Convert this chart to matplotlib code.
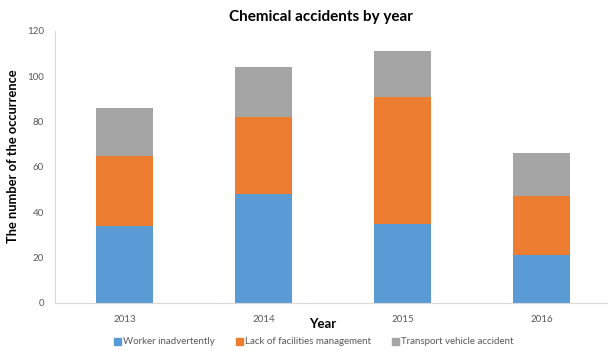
import matplotlib
matplotlib.use("Agg")
import matplotlib.pyplot as plt
import numpy as np
from matplotlib.patches import Patch

years = ["2013", "2014", "2015", "2016"]
worker = [34, 48, 35, 21]
facilities = [31, 34, 56, 26]
transport = [21, 22, 20, 19]
series_names = ["Worker inadvertently", "Lack of facilities management", "Transport vehicle accident"]
colors = ["#5B9BD5", "#ED7D31", "#A5A5A5"]

plt.rcParams['font.family'] = ['Lato', 'DejaVu Sans']

fig = plt.figure(figsize=(6.08, 3.51), dpi=100)
ax = fig.add_axes([55/608, 48/351, 556/608, 272/351])

x = np.arange(len(years))
w = 0.41
b1 = np.array(worker)
b2 = b1 + np.array(facilities)
ax.bar(x, worker, w, color=colors[0], label=series_names[0])
ax.bar(x, facilities, w, bottom=b1, color=colors[1], label=series_names[1])
ax.bar(x, transport, w, bottom=b2, color=colors[2], label=series_names[2])

ax.set_xlim(-0.5, 3.5)
ax.set_ylim(0, 120)
ax.set_yticks(range(0, 121, 20))
ax.set_xticks(x)
ax.set_xticklabels(years)
ax.tick_params(axis='both', length=0, labelsize=7, labelcolor="#595959")
ax.tick_params(axis='x', pad=9)
ax.tick_params(axis='y', pad=8)
for s in ["top", "right"]:
    ax.spines[s].set_visible(False)
for s in ["left", "bottom"]:
    ax.spines[s].set_color("#D9D9D9")
    ax.spines[s].set_linewidth(0.8)

fig.text(321/608, 1 - 17/351, "Chemical accidents by year", ha="center", va="center",
         fontsize=11, fontweight="bold", color="#000000")
fig.text(13/608, 1 - 156/351, "The number of the occurrence", rotation=90, ha="center",
         va="center", fontsize=9.3, fontweight="bold", color="#000000")
fig.text(323/608, 1 - 324/351, "Year", ha="center", va="center",
         fontsize=9.5, fontweight="bold", color="#000000")

handles = [Patch(color=c) for c in colors]
fig.legend(handles, series_names, loc="center", bbox_to_anchor=(314/608, 1 - 342/351),
           ncol=3, frameon=False, fontsize=7, labelcolor="#595959",
           handlelength=0.7, handleheight=0.7, handletextpad=0.2, columnspacing=2.2)

fig.savefig("out.png", dpi=100)
